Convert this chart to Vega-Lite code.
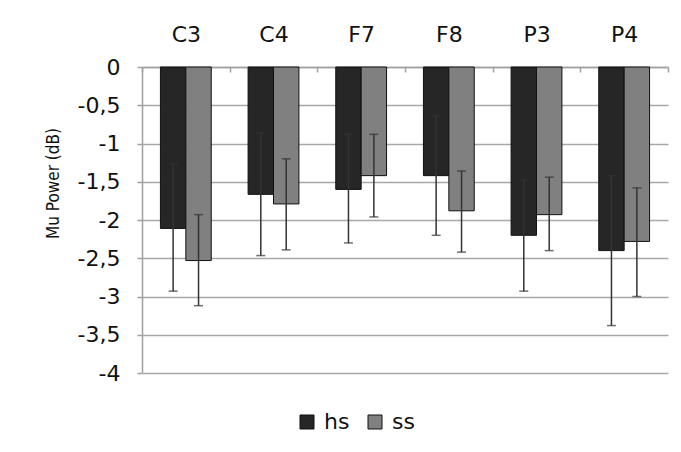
{
  "$schema": "https://vega.github.io/schema/vega-lite/v6.json",
  "autosize": {"type": "none"},
  "width": 526,
  "height": 306,
  "padding": {"left": 142, "top": 67, "right": 13, "bottom": 79},
  "background": "white",
  "config": {
    "view": {"stroke": null},
    "font": "DejaVu Sans",
    "axis": {"labelFont": "DejaVu Sans", "labelColor": "#111", "titleColor": "#111", "labelFontWeight": "normal", "titleFontWeight": "normal"},
    "axisY": {
      "titleFont": "DejaVu Sans Condensed, Liberation Sans Narrow, DejaVu Sans",
      "titleFontSize": 17, "titleAngle": -90, "titleX": -89, "titleY": 116, "titleAlign": "center", "titleBaseline": "middle",
      "labelOverlap": false, "labelFontSize": 22, "labelPadding": 17, "tickSize": 5,
      "tickColor": "#a0a0a0", "tickWidth": 1.5, "domainColor": "#a0a0a0", "domainWidth": 1.5,
      "grid": true, "gridColor": "#a8a8a8", "gridWidth": 1.5
    }
  },
  "data": {
    "values": [
      {"site": "C3", "group": "hs", "mean": -2.11, "lo": -2.93, "hi": -1.265},
      {"site": "C3", "group": "ss", "mean": -2.53, "lo": -3.12, "hi": -1.93},
      {"site": "C4", "group": "hs", "mean": -1.665, "lo": -2.465, "hi": -0.86},
      {"site": "C4", "group": "ss", "mean": -1.79, "lo": -2.39, "hi": -1.2},
      {"site": "F7", "group": "hs", "mean": -1.6, "lo": -2.3, "hi": -0.88},
      {"site": "F7", "group": "ss", "mean": -1.42, "lo": -1.96, "hi": -0.88},
      {"site": "F8", "group": "hs", "mean": -1.42, "lo": -2.2, "hi": -0.64},
      {"site": "F8", "group": "ss", "mean": -1.88, "lo": -2.42, "hi": -1.36},
      {"site": "P3", "group": "hs", "mean": -2.2, "lo": -2.93, "hi": -1.48},
      {"site": "P3", "group": "ss", "mean": -1.93, "lo": -2.4, "hi": -1.44},
      {"site": "P4", "group": "hs", "mean": -2.4, "lo": -3.38, "hi": -1.42},
      {"site": "P4", "group": "ss", "mean": -2.28, "lo": -3.0, "hi": -1.58}
    ]
  },
  "encoding": {
    "x": {
      "field": "site", "type": "nominal", "sort": null,
      "scale": {"paddingInner": 0, "paddingOuter": 0},
      "axis": {
        "orient": "top", "title": null, "labelAngle": 0,
        "labelFontSize": 22, "labelFontWeight": "normal", "labelPadding": 26, "tickSize": -5,
        "tickBand": "extent", "tickColor": "#a0a0a0", "tickWidth": 1.5,
        "domainColor": "#a0a0a0", "domainWidth": 1.5, "grid": false
      }
    },
    "xOffset": {"field": "group", "type": "nominal", "scale": {"paddingInner": 0, "paddingOuter": 0.725}}
  },
  "layer": [
    {
      "mark": {"type": "bar", "stroke": "#111", "strokeWidth": 1},
      "encoding": {
        "y": {
          "field": "mean", "type": "quantitative",
          "scale": {"domain": [-4, 0], "nice": false},
          "axis": {
            "title": "Mu Power (dB)",
            "values": [0, -0.5, -1, -1.5, -2, -2.5, -3, -3.5, -4],
            "labelExpr": "replace(toString(datum.value), '.', ',')"
          }
        },
        "color": {
          "field": "group", "type": "nominal",
          "scale": {"domain": ["hs", "ss"], "range": ["#262626", "#808080"]},
          "legend": {
            "title": null, "orient": "none", "direction": "horizontal",
            "legendX": 154, "legendY": 344,
            "symbolType": "square", "symbolSize": 196, "symbolStrokeColor": "#111", "symbolStrokeWidth": 1,
            "symbolOpacity": 1,
            "labelFontSize": 22, "labelFont": "DejaVu Sans", "labelColor": "#111", "labelOffset": 6, "columnPadding": 14
          }
        }
      }
    },
    {
      "mark": {"type": "rule", "color": "#333", "strokeWidth": 1.5},
      "encoding": {
        "y": {"field": "lo", "type": "quantitative", "axis": {
            "title": "Mu Power (dB)",
            "values": [0, -0.5, -1, -1.5, -2, -2.5, -3, -3.5, -4],
            "labelExpr": "replace(toString(datum.value), '.', ',')"
          }},
        "y2": {"field": "hi"}
      }
    },
    {
      "mark": {"type": "tick", "color": "#333", "thickness": 1.5, "size": 9},
      "encoding": {"y": {"field": "lo", "type": "quantitative", "axis": {
            "title": "Mu Power (dB)",
            "values": [0, -0.5, -1, -1.5, -2, -2.5, -3, -3.5, -4],
            "labelExpr": "replace(toString(datum.value), '.', ',')"
          }}}
    },
    {
      "mark": {"type": "tick", "color": "#333", "thickness": 1.5, "size": 9},
      "encoding": {"y": {"field": "hi", "type": "quantitative", "axis": {
            "title": "Mu Power (dB)",
            "values": [0, -0.5, -1, -1.5, -2, -2.5, -3, -3.5, -4],
            "labelExpr": "replace(toString(datum.value), '.', ',')"
          }}}
    }
  ]
}
